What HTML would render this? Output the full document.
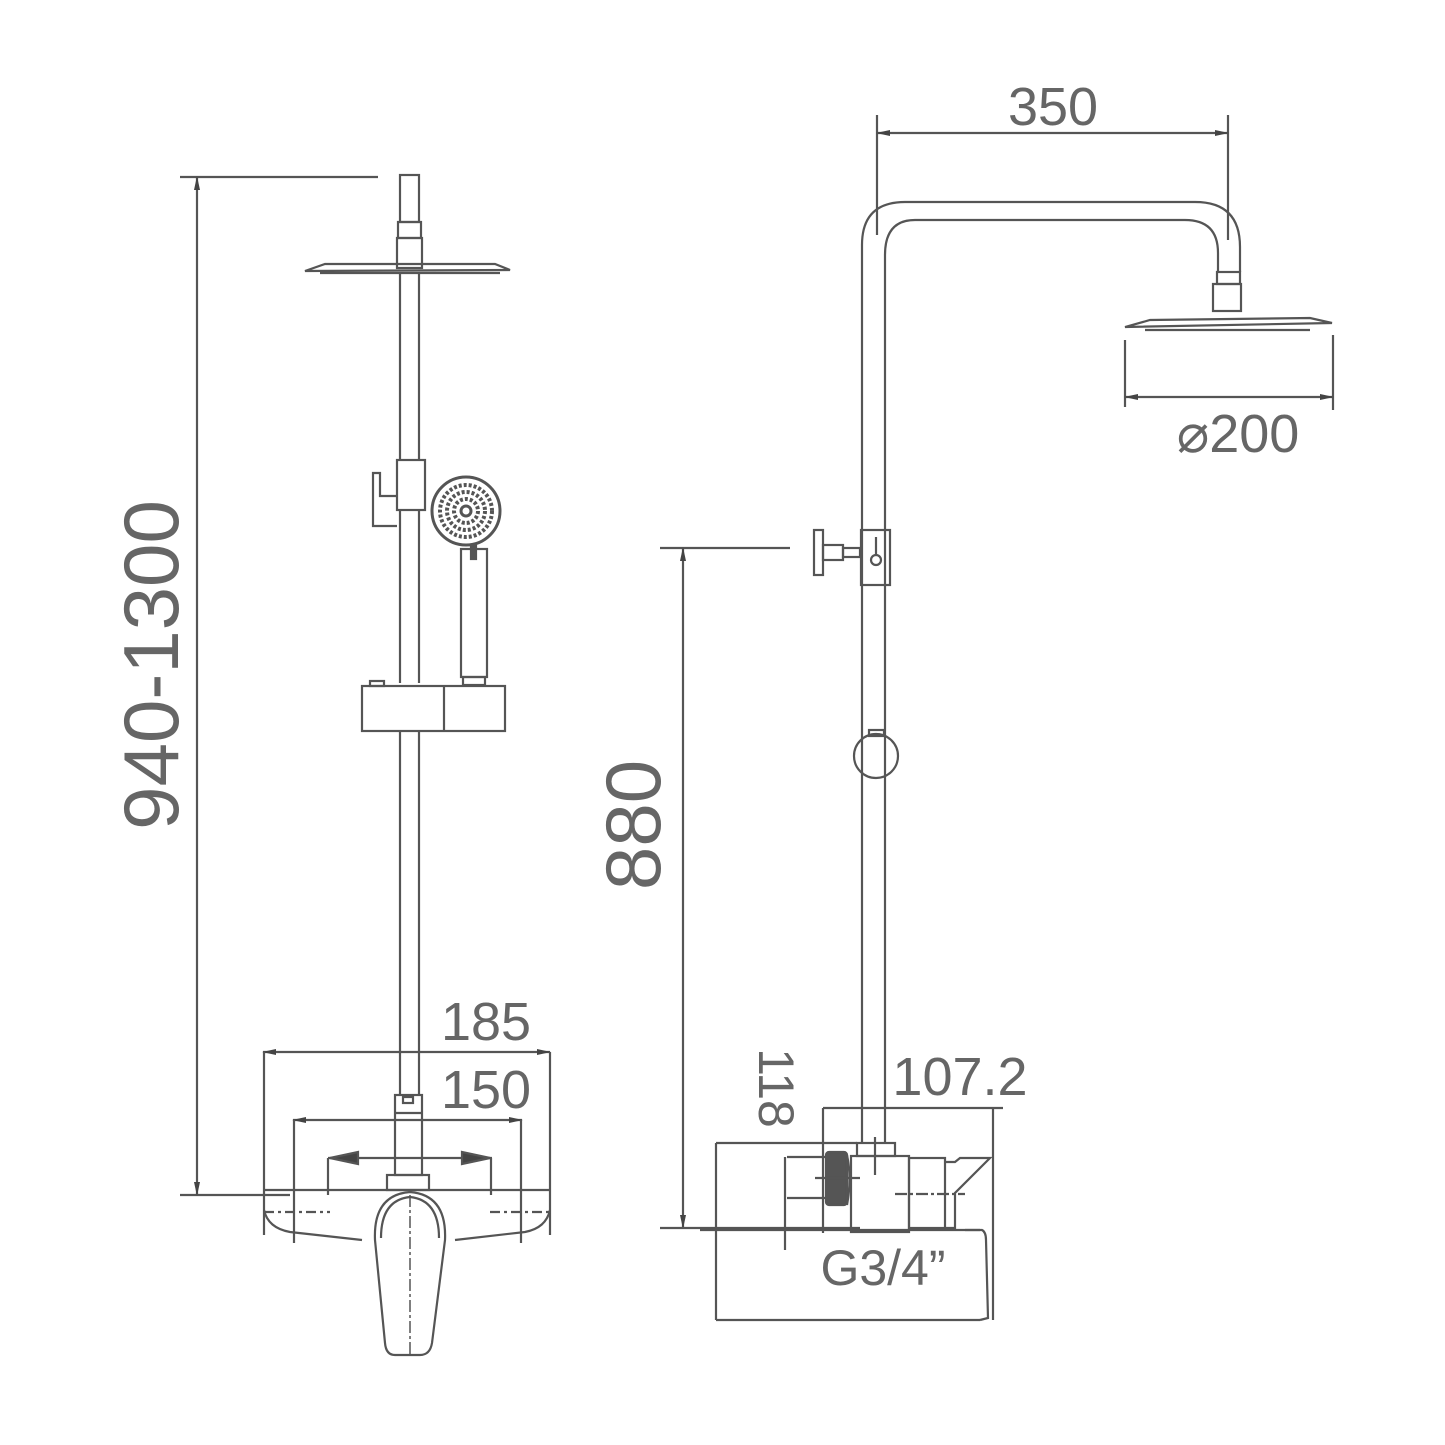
<!DOCTYPE html>
<html><head><meta charset="utf-8"><style>
html,body{margin:0;padding:0;background:#fff;}
svg{display:block;}
text{font-family:"Liberation Sans",sans-serif;fill:#666;}
</style></head><body>
<svg width="1445" height="1445" viewBox="0 0 1445 1445" xmlns="http://www.w3.org/2000/svg">
<defs>
<marker id="a" markerWidth="14" markerHeight="8" refX="13" refY="4" orient="auto-start-reverse" markerUnits="userSpaceOnUse">
<path d="M0,1 L14,4 L0,7 Z" fill="#444"/></marker>
</defs>
<g fill="none" stroke="#555" stroke-width="2.2">
<line x1="180" y1="177" x2="378" y2="177"/>
<line x1="180" y1="1195" x2="290" y2="1195"/>
<line x1="197" y1="177" x2="197" y2="1195" marker-start="url(#a)" marker-end="url(#a)"/>
<rect x="400" y="175" width="19" height="47"/>
<rect x="398" y="222" width="23" height="16"/>
<rect x="397" y="238" width="25" height="30"/>
<path d="M305,271 L325,264 L495,264 L510,270 L305,271 Z"/>
<line x1="320" y1="273" x2="500" y2="273"/>
<line x1="400" y1="273" x2="400" y2="460"/>
<line x1="419" y1="273" x2="419" y2="460"/>
<rect x="397" y="460" width="28" height="50"/>
<path d="M397,496 L380,496 L380,473 L373,473 L373,526 L397,526"/>
<line x1="400" y1="510" x2="400" y2="683"/>
<line x1="419" y1="510" x2="419" y2="683"/>
<circle cx="466" cy="511" r="34" stroke-width="3"/>
<circle cx="466" cy="511" r="26" stroke-dasharray="3 2" stroke-width="4"/>
<circle cx="466" cy="511" r="19" stroke-dasharray="3 2" stroke-width="4"/>
<circle cx="466" cy="511" r="12" stroke-dasharray="3 2" stroke-width="4"/>
<circle cx="466" cy="511" r="5" stroke-width="3"/>
<rect x="461" y="549" width="26" height="128"/>
<rect x="471" y="545" width="5" height="14" fill="#555"/>
<rect x="463" y="677" width="22" height="8"/>
<rect x="362" y="686" width="143" height="45"/>
<line x1="444" y1="686" x2="444" y2="731"/>
<rect x="370" y="681" width="14" height="5"/>
<line x1="400" y1="731" x2="400" y2="1095"/>
<line x1="419" y1="731" x2="419" y2="1095"/>
<line x1="263" y1="1052" x2="550" y2="1052" marker-start="url(#a)" marker-end="url(#a)"/>
<line x1="264" y1="1052" x2="264" y2="1235"/>
<line x1="550" y1="1052" x2="550" y2="1235"/>
<line x1="293" y1="1120" x2="522" y2="1120" marker-start="url(#a)" marker-end="url(#a)"/>
<line x1="294" y1="1120" x2="294" y2="1243"/>
<line x1="521" y1="1120" x2="521" y2="1243"/>
<line x1="328" y1="1158" x2="492" y2="1158"/>
<line x1="328" y1="1158" x2="328" y2="1195"/>
<line x1="491" y1="1158" x2="491" y2="1195"/>
<path d="M330,1158 L358,1152 L358,1164 Z M490,1158 L462,1152 L462,1164 Z" fill="#444"/>
<rect x="395" y="1095" width="27" height="80"/>
<rect x="403" y="1097" width="10" height="6"/>
<line x1="395" y1="1113" x2="422" y2="1113"/>
<rect x="387" y="1175" width="42" height="15"/>
<line x1="263" y1="1190" x2="550" y2="1190"/>
<path d="M264,1210 Q268,1228 290,1232 L362,1240"/>
<path d="M550,1210 Q546,1228 525,1232 L455,1240"/>
<path d="M264,1212 L330,1212 M490,1212 L550,1212" stroke-dasharray="10 4 3 4"/>
<path d="M375,1240 Q373,1195 410,1192 Q447,1195 445,1240 L432,1343 Q430,1355 420,1355 L395,1355 Q386,1355 385,1343 Z"/>
<path d="M381,1238 Q381,1200 410,1197 Q439,1200 439,1238"/>
<line x1="410" y1="1195" x2="410" y2="1355" stroke-dasharray="12 3 3 3" stroke-width="1.5"/>
<line x1="877" y1="115" x2="877" y2="235"/>
<line x1="1228" y1="115" x2="1228" y2="240"/>
<line x1="877" y1="133" x2="1228" y2="133" marker-start="url(#a)" marker-end="url(#a)"/>
<path d="M862,1142 L862,245 Q862,202 905,202 L1195,202 Q1240,202 1240,247 L1240,272"/>
<path d="M885,1142 L885,255 Q885,220 915,220 L1185,220 Q1218,220 1218,253 L1218,272"/>
<rect x="1217" y="272" width="23" height="12"/>
<rect x="1213" y="284" width="28" height="27"/>
<path d="M1125,327 L1150,320 L1310,318 L1332,323 L1125,327 Z"/>
<line x1="1145" y1="330" x2="1310" y2="330"/>
<line x1="1125" y1="340" x2="1125" y2="407"/>
<line x1="1333" y1="335" x2="1333" y2="410"/>
<line x1="1125" y1="397" x2="1333" y2="397" marker-start="url(#a)" marker-end="url(#a)"/>
<rect x="861" y="530" width="29" height="55"/>
<line x1="876" y1="537" x2="876" y2="555"/>
<circle cx="876" cy="560" r="5"/>
<rect x="814" y="530" width="9" height="45"/>
<rect x="823" y="545" width="20" height="15"/>
<rect x="843" y="548" width="17" height="9"/>
<line x1="660" y1="548" x2="790" y2="548"/>
<line x1="683" y1="548" x2="683" y2="1228" marker-start="url(#a)" marker-end="url(#a)"/>
<line x1="660" y1="1228" x2="860" y2="1228"/>
<circle cx="876" cy="756" r="22"/>
<rect x="869" y="730" width="15" height="6"/>
<line x1="823" y1="1108" x2="1003" y2="1108"/>
<line x1="823" y1="1108" x2="823" y2="1233"/>
<line x1="993" y1="1108" x2="993" y2="1320"/>
<rect x="857" y="1143" width="38" height="13"/>
<line x1="875" y1="1137" x2="875" y2="1175"/>
<rect x="851" y="1156" width="58" height="76"/>
<rect x="909" y="1158" width="36" height="70"/>
<path d="M945,1162 L955,1162 L960,1158 L990,1158 L955,1193 L955,1228 L945,1228"/>
<rect x="826" y="1152" width="21" height="53" rx="3" fill="#555"/>
<path d="M847,1155 Q852,1178 847,1205"/>
<line x1="787" y1="1157" x2="826" y2="1157"/>
<line x1="787" y1="1198" x2="826" y2="1198"/>
<line x1="785" y1="1157" x2="785" y2="1250"/>
<line x1="815" y1="1178" x2="860" y2="1178"/>
<line x1="895" y1="1194" x2="965" y2="1194" stroke-dasharray="12 3 3 3"/>
<line x1="716" y1="1143" x2="857" y2="1143"/>
<line x1="716" y1="1143" x2="716" y2="1320"/>
<line x1="700" y1="1230" x2="980" y2="1230"/>
<path d="M965,1230 L982,1230 Q986,1232 986,1240 L988,1318 L980,1320"/>
<line x1="716" y1="1320" x2="980" y2="1320"/>
</g>
<g font-size="78">
<text transform="translate(178,665) rotate(-90)" text-anchor="middle">940-1300</text>
<text transform="translate(660,825) rotate(-90)" text-anchor="middle">880</text>
</g>
<g font-size="54">
<text x="1053" y="125" text-anchor="middle">350</text>
<text x="1238" y="452" text-anchor="middle">⌀200</text>
<text x="486" y="1040" text-anchor="middle">185</text>
<text x="486" y="1108" text-anchor="middle">150</text>
<text x="960" y="1095" text-anchor="middle">107.2</text>
<text x="883" y="1285" text-anchor="middle" font-size="50">G3/4”</text>
<text transform="translate(759,1088) rotate(90)" text-anchor="middle" font-size="50">118</text>
</g>
</svg>
</body></html>
